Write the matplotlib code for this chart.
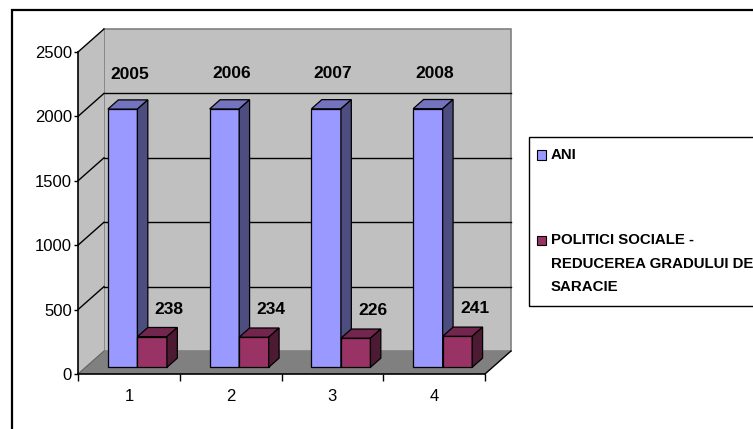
import matplotlib
matplotlib.use("Agg")
import matplotlib.pyplot as plt
from matplotlib.patches import Polygon, Rectangle

plt.rcParams['font.family'] = ['Liberation Sans', 'DejaVu Sans']

# ---- data ----
categories = ["1", "2", "3", "4"]
series_names = ["ANI", "POLITICI SOCIALE -\nREDUCEREA GRADULUI DE\nSARACIE"]
ani = [2005, 2006, 2007, 2008]
politici = [238, 234, 226, 241]
y_ticks = [0, 500, 1000, 1500, 2000, 2500]

# ---- styling ----
W, H = 753, 429
fig = plt.figure(figsize=(W / 100, H / 100), dpi=100)

ax_l, ax_r, ax_t, ax_b = 78, 485, 52, 374          # front plane in pixels
ax = fig.add_axes([ax_l / W, (H - ax_b) / H, (ax_r - ax_l) / W, (ax_b - ax_t) / H])
ax.set_xlim(0, len(categories))
ax.set_ylim(0, y_ticks[-1])
ax.patch.set_visible(False)

# depth offset of the back wall, in data units
DX = 26 / ((ax_r - ax_l) / len(categories))
DY = 23 / ((ax_b - ax_t) / y_ticks[-1])

WALL = "#C0C0C0"
FLOOR = "#808080"
EDGE = "#808080"
YMAX = y_ticks[-1]
NC = len(categories)


def at(x, y, d):
    return (x + d * DX, y + d * DY)


# walls and floor
ax.add_patch(Polygon([at(0, 0, 1), at(NC, 0, 1), at(NC, YMAX, 1), at(0, YMAX, 1)],
                     closed=True, fc=WALL, ec=EDGE, lw=1.2, zorder=0.5, clip_on=False))
ax.add_patch(Polygon([(0, 0), at(0, 0, 1), at(0, YMAX, 1), (0, YMAX)],
                     closed=True, fc=WALL, ec="none", zorder=0.5, clip_on=False))
ax.add_patch(Polygon([(0, 0), (NC, 0), at(NC, 0, 1), at(0, 0, 1)],
                     closed=True, fc=FLOOR, ec="none", zorder=0.7, clip_on=False))
ax.plot([NC, NC + DX], [0, DY], color="black", lw=1, zorder=0.8, clip_on=False)
ax.plot([0, DX], [0, DY], color="#606060", lw=0.8, zorder=0.8, clip_on=False)

# gridlines on back and side walls
for v in y_ticks[1:]:
    if v < YMAX:
        ax.plot([DX, NC + DX], [v + DY, v + DY], color="black", lw=1, zorder=0.6, clip_on=False)
    ax.plot([0, DX], [v, v + DY], color="black", lw=1, zorder=0.6, clip_on=False)

# 3D bars
BAR_W = 0.29
D0, D1 = 0.29, 0.69
series = [
    (ani, -0.5, ("#9999FF", "#7373BF", "#4D4D80")),
    (politici, 0.5, ("#993366", "#73264D", "#4D1A33")),
]
CENTER = 0.51


def draw_bar(xc, v, cols, z):
    x0, x1 = xc - BAR_W / 2, xc + BAR_W / 2
    front, top, side = cols
    kw = dict(closed=True, ec="black", lw=0.9, zorder=z, clip_on=False)
    ax.add_patch(Polygon([at(x0, 0, D0), at(x1, 0, D0), at(x1, v, D0), at(x0, v, D0)], fc=front, **kw))
    ax.add_patch(Polygon([at(x0, v, D0), at(x1, v, D0), at(x1, v, D1), at(x0, v, D1)], fc=top, **kw))
    ax.add_patch(Polygon([at(x1, 0, D0), at(x1, 0, D1), at(x1, v, D1), at(x1, v, D0)], fc=side, **kw))


z = 2
for i in range(NC):
    for vals, off, cols in series:
        xc = i + CENTER + off * BAR_W
        draw_bar(xc, vals[i], cols, z)
        z += 1

# value labels
lab_kw = dict(fontsize=12.5, fontweight="bold", ha="center", va="center", zorder=20, clip_on=False)
for i in range(NC):
    xb = i + CENTER - 0.5 * BAR_W
    lx, ly = at(xb, ani[i] + 225, 0.55)
    ax.text(lx, ly, str(ani[i]), **lab_kw)
    xr = i + CENTER + 0.5 * BAR_W
    lx, ly = at(xr, politici[i] + 95, 0.95)
    ax.text(lx, ly, str(politici[i]), **lab_kw)

# axes, ticks
for s in ("top", "right"):
    ax.spines[s].set_visible(False)
ax.spines["left"].set_linewidth(1.2)
ax.spines["bottom"].set_linewidth(1.2)
ax.set_yticks(y_ticks)
ax.set_yticklabels([str(v) for v in y_ticks])
ax.tick_params(axis="y", length=3, width=1, pad=1.5, labelsize=12)
ax.set_xticks(range(NC + 1))
ax.set_xticklabels([])
ax.set_xticks([i + 0.5 for i in range(NC)], minor=True)
ax.set_xticklabels(categories, minor=True)
ax.tick_params(axis="x", which="major", length=5, width=1)
ax.tick_params(axis="x", which="minor", length=0, pad=11, labelsize=12)


def fx(px):
    return px / W


def fy(py):
    return (H - py) / H


# outer chart border
fig.add_artist(Rectangle((fx(12), fy(480)), fx(800), fy(10) - fy(480), transform=fig.transFigure,
                         fill=False, ec="black", lw=1.6))

# legend
fig.add_artist(Rectangle((fx(529), fy(306)), fx(300), fy(137) - fy(306), transform=fig.transFigure,
                         fill=False, ec="black", lw=1))
legend_rows = [(155, 238)]
sq = 9
for (name, yc, color) in [(series_names[0], 155, "#9999FF"), (series_names[1], 240, "#993366")]:
    fig.add_artist(Rectangle((fx(537), fy(yc + sq / 2)), fx(sq), fy(yc - sq / 2) - fy(yc + sq / 2),
                             transform=fig.transFigure, fc=color, ec="black", lw=0.8))
    lines = name.split("\n")
    for k, line in enumerate(lines):
        fig.text(fx(551), fy(yc + k * 23.5), line, fontsize=10.8, fontweight="bold",
                 ha="left", va="center")

fig.savefig("out.png", dpi=100)
